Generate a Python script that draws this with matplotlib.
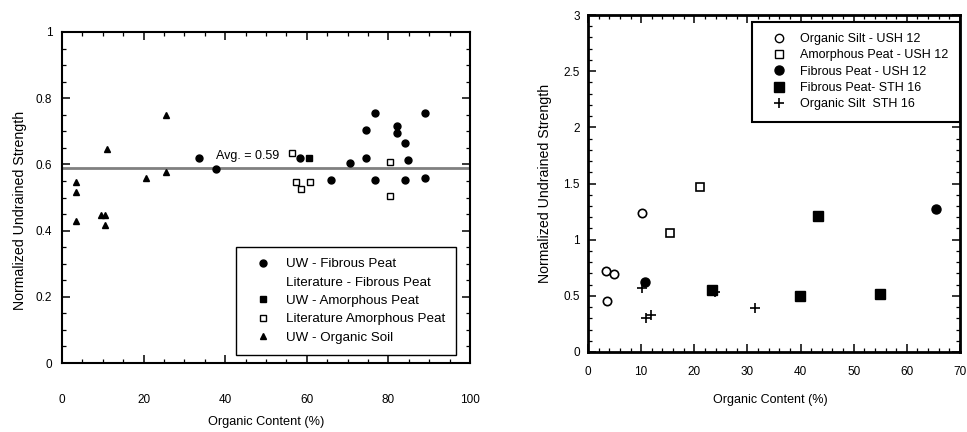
import matplotlib
matplotlib.use('Agg')
import matplotlib.pyplot as plt
from matplotlib.lines import Line2D
from matplotlib.ticker import MultipleLocator

plt.rcParams['font.family'] = ['Liberation Sans', 'DejaVu Sans']

# ---- left panel data ----
uw_fibrous_x = [33.6, 37.8, 58.4, 66, 70.7, 74.6, 74.6, 76.8, 76.8, 82, 82, 84, 84, 84.7, 88.9, 88.9]
uw_fibrous_y = [0.62, 0.585, 0.62, 0.553, 0.605, 0.703, 0.62, 0.754, 0.553, 0.715, 0.696, 0.666, 0.553, 0.612, 0.754, 0.56]
uw_amorph_x = [60.6]
uw_amorph_y = [0.62]
lit_amorph_x = [56.4, 57.4, 58.6, 60.8, 80.5, 80.5]
lit_amorph_y = [0.635, 0.547, 0.525, 0.547, 0.606, 0.505]
uw_organic_x = [3.5, 3.5, 3.5, 9.5, 10.5, 10.5, 11, 20.5, 25.6, 25.6]
uw_organic_y = [0.547, 0.517, 0.43, 0.447, 0.447, 0.417, 0.648, 0.558, 0.748, 0.577]
avg_strength = 0.59

left_labels = ['UW - Fibrous Peat', 'Literature - Fibrous Peat', 'UW - Amorphous Peat',
               'Literature Amorphous Peat', 'UW - Organic Soil']

# ---- right panel data ----
silt_ush_x = [3.3, 4.8, 3.5, 10.25]
silt_ush_y = [0.72, 0.69, 0.45, 1.24]
amorph_ush_x = [21.1, 15.4]
amorph_ush_y = [1.47, 1.06]
fibrous_ush_x = [65.5, 10.7]
fibrous_ush_y = [1.27, 0.62]
fibrous_sth_x = [23.3, 39.9, 43.3, 55]
fibrous_sth_y = [0.55, 0.50, 1.21, 0.52]
silt_sth_x = [10.1, 10.9, 11.9, 23.9, 31.4]
silt_sth_y = [0.57, 0.30, 0.33, 0.53, 0.39]

right_labels = ['Organic Silt - USH 12', 'Amorphous Peat - USH 12', 'Fibrous Peat - USH 12',
                'Fibrous Peat- STH 16', 'Organic Silt  STH 16']

FS = 8.5


def style_axes(ax, lw):
    for sp in ax.spines.values():
        sp.set_linewidth(lw)
    ax.tick_params(which='both', direction='in', top=True, right=True, labelsize=FS)
    ax.tick_params(which='major', length=6, width=1.1)
    ax.tick_params(which='minor', length=3, width=0.9)


fig = plt.figure(figsize=(9.67, 4.32), dpi=100)

# ---------- left ----------
ax1 = fig.add_axes([62 / 967, 1 - 363 / 432, 408 / 967, 331 / 432])
ax1.plot(uw_fibrous_x, uw_fibrous_y, 'o', color='black', ms=5, ls='none')
ax1.plot(uw_amorph_x, uw_amorph_y, 's', color='black', ms=5, ls='none')
ax1.plot(lit_amorph_x, lit_amorph_y, 's', mfc='white', mec='black', mew=1, ms=5, ls='none')
ax1.plot(uw_organic_x, uw_organic_y, '^', color='black', ms=5, ls='none')
ax1.axhline(avg_strength, color='#808080', lw=2, zorder=1)
ax1.text(37.7, 0.625, 'Avg. = 0.59', fontsize=FS + 0.5, ha='left', va='center')

ax1.set_xlim(0, 100)
ax1.set_ylim(0, 1)
ax1.xaxis.set_major_locator(MultipleLocator(20))
ax1.xaxis.set_minor_locator(MultipleLocator(5))
ax1.set_yticks([0, 0.2, 0.4, 0.6, 0.8, 1])
ax1.set_yticklabels(['0', '0.2', '0.4', '0.6', '0.8', '1'])
ax1.yaxis.set_minor_locator(MultipleLocator(0.05))
style_axes(ax1, 1.5)
ax1.tick_params(axis='x', which='major', pad=22)
ax1.tick_params(axis='y', which='major', pad=7)
ax1.set_xlabel('Organic Content (%)', fontsize=9.2)
ax1.set_ylabel('Normalized Undrained Strength', fontsize=10.2)
ax1.xaxis.set_label_coords(0.50, -0.16)
ax1.yaxis.set_label_coords(-0.087, 0.46)

h1 = [Line2D([], [], marker='o', color='black', ls='none', ms=5),
      Line2D([], [], marker='none', ls='none'),
      Line2D([], [], marker='s', color='black', ls='none', ms=5),
      Line2D([], [], marker='s', mfc='white', mec='black', ls='none', ms=5),
      Line2D([], [], marker='^', color='black', ls='none', ms=5)]
leg1 = ax1.legend(h1, left_labels, loc='lower right', bbox_to_anchor=(0.966, 0.024),
                  fontsize=9.6, frameon=True, fancybox=False, edgecolor='black',
                  framealpha=1, labelspacing=0.45, handlelength=2.4, handletextpad=0.5,
                  borderpad=0.85, borderaxespad=0)
leg1.get_frame().set_linewidth(1)

# ---------- right ----------
ax2 = fig.add_axes([588 / 967, 1 - 352 / 432, 372 / 967, 337 / 432])
ax2.plot(silt_ush_x, silt_ush_y, 'o', mfc='white', mec='black', mew=1.2, ms=6, ls='none')
ax2.plot(amorph_ush_x, amorph_ush_y, 's', mfc='white', mec='black', mew=1.2, ms=6, ls='none')
ax2.plot(fibrous_ush_x, fibrous_ush_y, 'o', color='black', ms=6.5, ls='none')
ax2.plot(fibrous_sth_x, fibrous_sth_y, 's', color='black', ms=7, ls='none')
ax2.plot(silt_sth_x, silt_sth_y, '+', color='black', mew=1.2, ms=7, ls='none')

ax2.set_xlim(0, 70)
ax2.set_ylim(0, 3)
ax2.xaxis.set_major_locator(MultipleLocator(10))
ax2.xaxis.set_minor_locator(MultipleLocator(2))
ax2.set_yticks([0, 0.5, 1, 1.5, 2, 2.5, 3])
ax2.set_yticklabels(['0', '0.5', '1', '1.5', '2', '2.5', '3'])
ax2.yaxis.set_minor_locator(MultipleLocator(0.1))
style_axes(ax2, 2)
ax2.tick_params(axis='x', which='major', pad=10)
ax2.tick_params(axis='y', which='major', pad=6)
ax2.set_xlabel('Organic Content (%)', fontsize=9)
ax2.set_ylabel('Normalized Undrained Strength', fontsize=10.2)
ax2.xaxis.set_label_coords(0.49, -0.125)
ax2.yaxis.set_label_coords(-0.097, 0.50)

h2 = [Line2D([], [], marker='o', mfc='white', mec='black', ls='none', ms=6),
      Line2D([], [], marker='s', mfc='white', mec='black', ls='none', ms=6),
      Line2D([], [], marker='o', color='black', ls='none', ms=6.5),
      Line2D([], [], marker='s', color='black', ls='none', ms=7),
      Line2D([], [], marker='+', color='black', mew=1.2, ls='none', ms=7)]
leg2 = ax2.legend(h2, right_labels, loc='upper right', bbox_to_anchor=(1.0, 0.98),
                  fontsize=FS + 0.5, frameon=True, fancybox=False, edgecolor='black',
                  framealpha=1, labelspacing=0.35, handlelength=2.5, handletextpad=0.5,
                  borderpad=0.9, borderaxespad=0)
leg2.get_frame().set_linewidth(1.5)

fig.savefig('out.png', dpi=100, facecolor='white')
